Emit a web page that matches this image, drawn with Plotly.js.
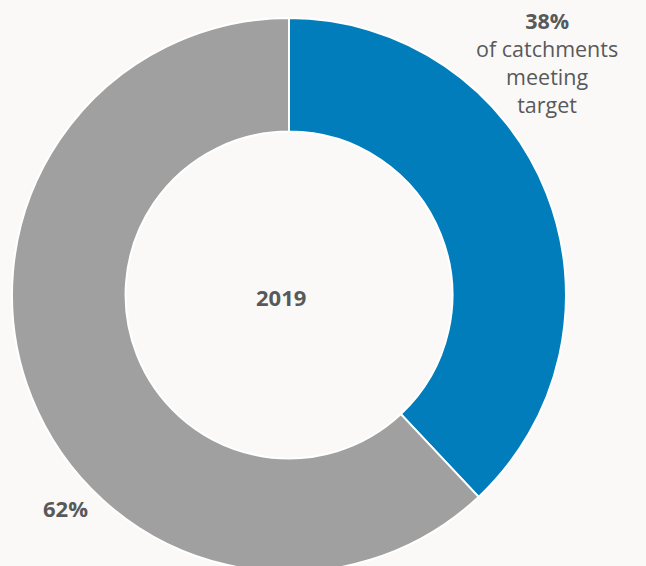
<!DOCTYPE html>
<html>
<head>
<meta charset="utf-8">
<script src="https://cdn.plot.ly/plotly-3.0.1.min.js"></script>
<style>
html,body{margin:0;padding:0;background:#faf9f7;overflow:hidden;width:646px;height:566px;}
#chart{width:646px;height:580px;}
</style>
</head>
<body>
<div id="chart"></div>
<script>
var labels = ["Meeting target", "Not meeting target"];
var values = [38, 62];
var colors = ["#007dba", "#a0a0a0"];
var centerLabel = "2019";
var noteLines = ["of catchments", "meeting", "target"];

var W = 646, H = 580, L = 12, R = 80, T = 18, B = 8;
var pw = W - L - R, ph = H - T - B;
function px(x){ return (x - L) / pw; }
function py(y){ return 1 - (y - T) / ph; }

var font = "'Open Sans', sans-serif";
var txt = "#58595b";

function ann(text, x, y, size){
  return {text: text, x: px(x), y: py(y), xref: "paper", yref: "paper", showarrow: false,
    font: {family: font, size: size, color: txt},
    xanchor: "center", yanchor: "middle", align: "center"};
}

var noteText = '<b>' + values[0] + '%</b><br>' + noteLines.join("<br>");

var data = [{
  type: "pie",
  labels: labels,
  values: values,
  hole: 0.59,
  sort: false,
  direction: "clockwise",
  rotation: 0,
  textinfo: "none",
  hoverinfo: "label+percent",
  marker: {colors: colors, line: {color: "#ffffff", width: 2}},
  showlegend: false
}];

var layout = {
  width: W, height: H,
  margin: {l: L, r: R, t: T, b: B, pad: 0},
  paper_bgcolor: "#faf9f7",
  plot_bgcolor: "#faf9f7",
  showlegend: false,
  annotations: [
    ann(noteText, 547, 62.5, 21.5),
    ann("<b>" + values[1] + "%</b>", 65, 508, 22),
    ann("<b>" + centerLabel + "</b>", 281, 297, 22)
  ]
};

Plotly.newPlot("chart", data, layout, {displayModeBar: false, staticPlot: true});
</script>
</body>
</html>
